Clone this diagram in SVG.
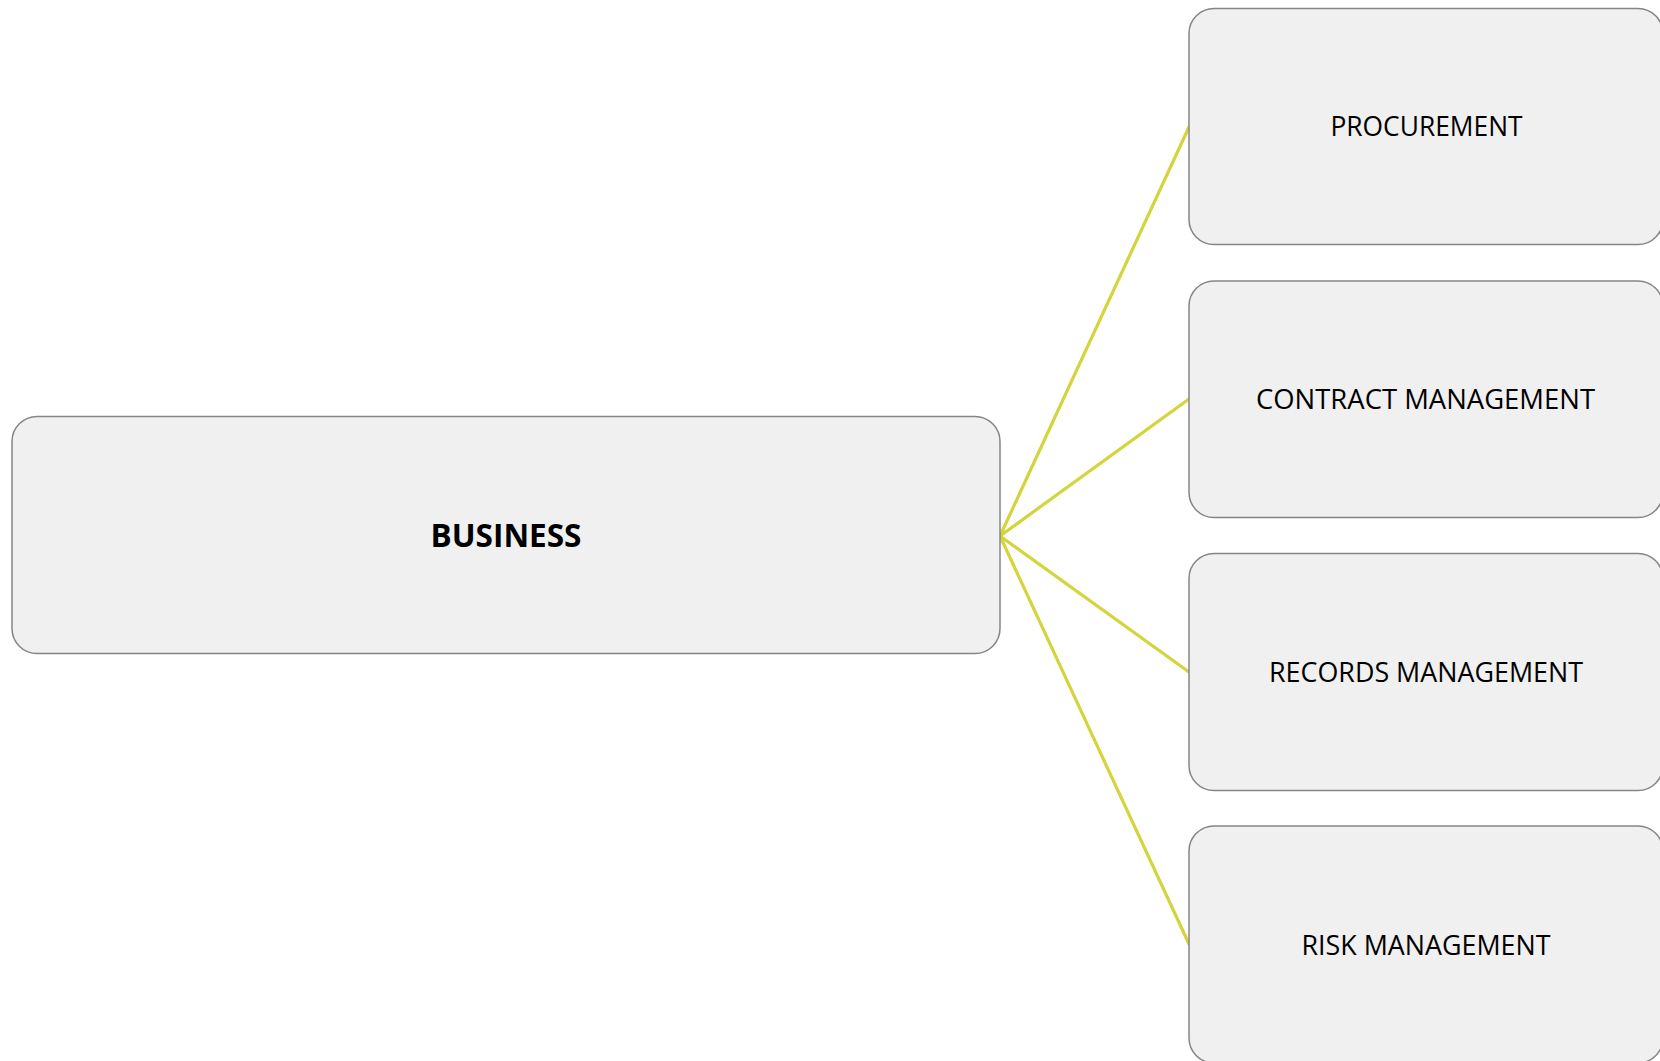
<svg xmlns="http://www.w3.org/2000/svg" width="1660" height="1061" viewBox="0 0 1660 1061">
  <style>
    .box { fill: #f0f0f0; stroke: #858585; stroke-width: 1.5; }
    .link { stroke: #d4d43c; stroke-width: 3.2; fill: none; stroke-linecap: round; }
    .label { font-family: "Open Sans", "Noto Sans", "Liberation Sans", sans-serif; font-size: 28px; fill: #000; text-anchor: middle; }
    .root { font-weight: bold; font-size: 32px; }
  </style>
  <rect width="1660" height="1061" fill="#ffffff"/>

  <!-- connectors from the root node to each branch -->
  <g id="connectors">
    <line class="link" x1="1000" y1="536" x2="1189" y2="127"/>
    <line class="link" x1="1000" y1="536" x2="1189" y2="399"/>
    <line class="link" x1="1000" y1="536" x2="1189" y2="672"/>
    <line class="link" x1="1000" y1="536" x2="1189" y2="944"/>
  </g>

  <g id="node-business">
    <rect class="box" x="12" y="416.5" width="988" height="237" rx="25" ry="25"/>
    <text class="label root" x="506" y="546.5" textLength="151" lengthAdjust="spacingAndGlyphs">BUSINESS</text>
  </g>

  <g id="node-procurement">
    <rect class="box" x="1189" y="8.5" width="474" height="236" rx="25" ry="25"/>
    <text class="label" x="1426.5" y="136" textLength="192" lengthAdjust="spacingAndGlyphs">PROCUREMENT</text>
  </g>

  <g id="node-contract-management">
    <rect class="box" x="1189" y="281" width="474" height="236.5" rx="25" ry="25"/>
    <text class="label" x="1425.5" y="409" textLength="339" lengthAdjust="spacingAndGlyphs">CONTRACT MANAGEMENT</text>
  </g>

  <g id="node-records-management">
    <rect class="box" x="1189" y="553.5" width="474" height="237" rx="25" ry="25"/>
    <text class="label" x="1426" y="681.5" textLength="314" lengthAdjust="spacingAndGlyphs">RECORDS MANAGEMENT</text>
  </g>

  <g id="node-risk-management">
    <rect class="box" x="1189" y="826" width="474" height="237" rx="25" ry="25"/>
    <text class="label" x="1426" y="955" textLength="249" lengthAdjust="spacingAndGlyphs">RISK MANAGEMENT</text>
  </g>
</svg>
